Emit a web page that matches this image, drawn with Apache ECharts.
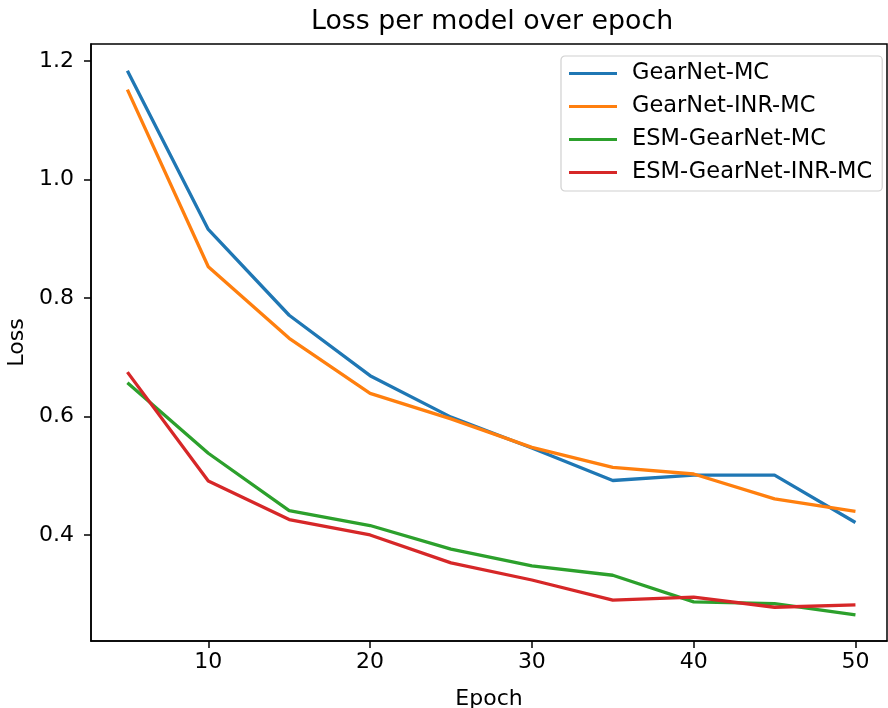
<!DOCTYPE html>
<html>
<head>
<meta charset="utf-8">
<script src="https://cdn.jsdelivr.net/npm/echarts@6/dist/echarts.min.js"></script>
<style>
  html, body { margin: 0; padding: 0; background: #fff; }
  #chart { width: 888px; height: 708px; }
</style>
</head>
<body>
<div id="chart"></div>
<script>
// data
const epochs = [5, 10, 15, 20, 25, 30, 35, 40, 45, 50];
const gearnetMC = [1.184, 0.916, 0.771, 0.669, 0.599, 0.547, 0.492, 0.501, 0.501, 0.421];
const gearnetInrMC = [1.152, 0.853, 0.732, 0.639, 0.596, 0.548, 0.514, 0.503, 0.461, 0.440];
const esmGearnetMC = [0.657, 0.538, 0.441, 0.416, 0.376, 0.348, 0.332, 0.287, 0.284, 0.265];
const esmGearnetInrMC = [0.675, 0.491, 0.426, 0.400, 0.353, 0.324, 0.290, 0.295, 0.278, 0.282];
const xTicks = [10, 20, 30, 40, 50];
const yTicks = [0.4, 0.6, 0.8, 1.0, 1.2];

const FONT = "DejaVu Sans";
const colors = ["#1f77b4", "#ff7f0e", "#2ca02c", "#d62728"];

function pairs(vals) {
  return epochs.map((e, i) => [e, vals[i]]);
}

function lineSeries(name, vals, color) {
  return {
    name: name,
    type: "line",
    data: pairs(vals),
    showSymbol: false,
    symbol: "none",
    lineStyle: { color: color, width: 3.3 },
    itemStyle: { color: color },
    animation: false
  };
}

const myChart = echarts.init(document.getElementById("chart"));

const option = {
  backgroundColor: "#fff",
  title: {
    text: "Loss per model over epoch",
    left: 306,
    top: 4,
    textStyle: { fontFamily: FONT, fontSize: 26.8, fontWeight: "normal", color: "#000" }
  },
  grid: {
    left: 91, top: 44, right: 1, bottom: 67,
    outerBoundsMode: "none",
    show: true, borderColor: "#000", borderWidth: 1.5, backgroundColor: "transparent"
  },
  legend: {
    orient: "vertical",
    left: 561, top: 56,
    padding: [6, 10, 7, 8],
    itemWidth: 48, itemHeight: 3, itemGap: 10,
    icon: "rect",
    backgroundColor: "#fff",
    borderColor: "#d0d0d0", borderWidth: 1.2, borderRadius: 4,
    textStyle: { fontFamily: FONT, fontSize: 22.5, color: "#000", lineHeight: 23, padding: [0, 0, 0, 10] },
    data: ["GearNet-MC", "GearNet-INR-MC", "ESM-GearNet-MC", "ESM-GearNet-INR-MC"]
  },
  xAxis: {
    type: "value",
    min: 2.75, max: 51.95,
    name: "Epoch", nameLocation: "middle", nameGap: 47,
    nameTextStyle: { fontFamily: FONT, fontSize: 22, color: "#000" },
    axisLine: { show: true, onZero: false, lineStyle: { color: "#000", width: 1.5 } },
    axisTick: { show: true, length: 7, customValues: xTicks, lineStyle: { color: "#000", width: 1.5 } },
    axisLabel: { customValues: xTicks, margin: 10, fontFamily: FONT, fontSize: 22, color: "#000" },
    splitLine: { show: false }
  },
  yAxis: {
    type: "value",
    min: 0.221, max: 1.229,
    name: "Loss", nameLocation: "middle", nameGap: 61, nameRotate: 90,
    nameTextStyle: { fontFamily: FONT, fontSize: 22, color: "#000" },
    axisLine: { show: true, onZero: false, lineStyle: { color: "#000", width: 1.5 } },
    axisTick: { show: true, length: 7, customValues: yTicks, lineStyle: { color: "#000", width: 1.5 } },
    axisLabel: {
      customValues: yTicks, margin: 17, fontFamily: FONT, fontSize: 22, color: "#000",
      formatter: v => v.toFixed(1)
    },
    splitLine: { show: false }
  },
  series: [
    lineSeries("GearNet-MC", gearnetMC, colors[0]),
    lineSeries("GearNet-INR-MC", gearnetInrMC, colors[1]),
    lineSeries("ESM-GearNet-MC", esmGearnetMC, colors[2]),
    lineSeries("ESM-GearNet-INR-MC", esmGearnetInrMC, colors[3])
  ],
  animation: false
};

myChart.setOption(option);
</script>
</body>
</html>
